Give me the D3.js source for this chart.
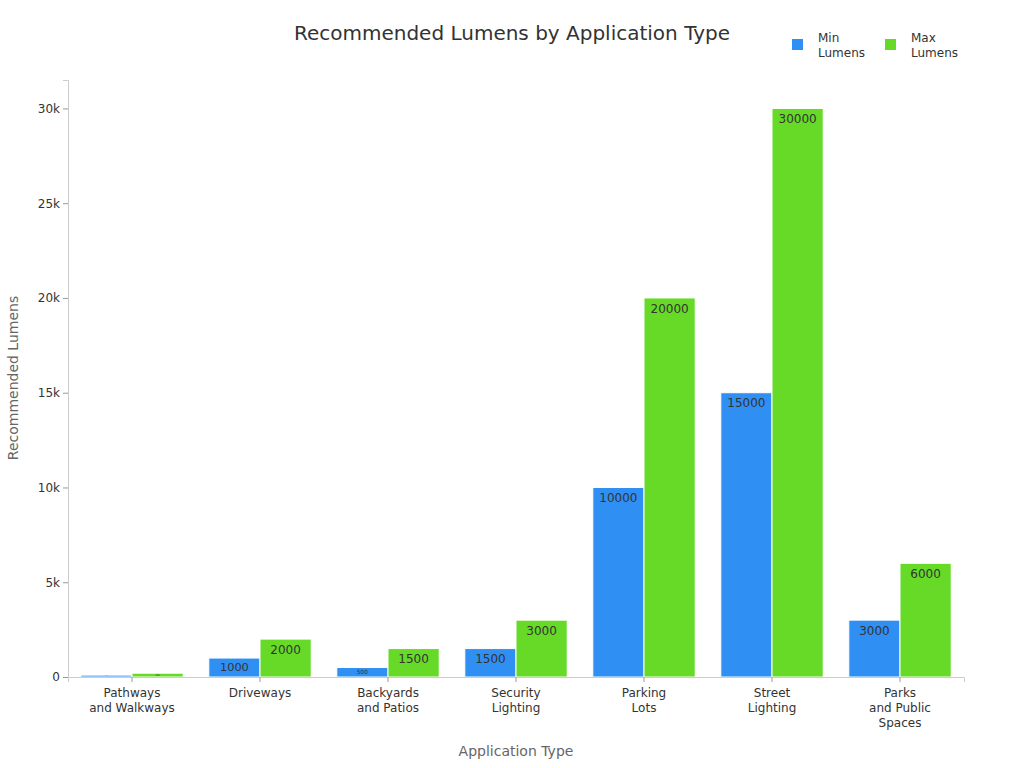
<!DOCTYPE html>
<html>
<head>
<meta charset="utf-8">
<script src="https://cdn.jsdelivr.net/npm/d3@7"></script>
<style>
	body { margin: 0; background: #fff; font-family: "DejaVu Sans", sans-serif; }
</style>
</head>
<body>
<div id="chart01"></div>
<script>
// data
var categories = [
	["Pathways", "and Walkways"],
	["Driveways"],
	["Backyards", "and Patios"],
	["Security", "Lighting"],
	["Parking", "Lots"],
	["Street", "Lighting"],
	["Parks", "and Public", "Spaces"]
];
var minLumens = [100, 1000, 500, 1500, 10000, 15000, 3000];
var maxLumens = [200, 2000, 1500, 3000, 20000, 30000, 6000];
var seriesNames = ["Min Lumens", "Max Lumens"];
var yTicks = [0, 5000, 10000, 15000, 20000, 25000, 30000];

var width = 1024, height = 768;
var margin = { top: 80, right: 60, bottom: 91, left: 68 };

var svg = d3.select("#chart01").append("svg")
	.attr("width", width).attr("height", height);

var keys = categories.map((c) => c.join(" "));
var rows = keys.map((k, i) => ({ key: k, values: [minLumens[i], maxLumens[i]] }));

var x = d3.scaleBand().domain(keys)
	.range([margin.left, width - margin.right]).paddingInner(0).paddingOuter(0);
var x1 = d3.scaleBand().domain(seriesNames)
	.range([0, x.bandwidth()]).paddingInner(0).paddingOuter(0.25);
var y = d3.scaleLinear().domain([0, 31500])
	.range([height - margin.bottom, margin.top]);
var colors = d3.scaleOrdinal().domain(seriesNames).range(["#2f8ff3", "#66da26"]);

// y axis
var yAxis = svg.append("g")
	.attr("transform", `translate(${margin.left},0)`)
	.call(d3.axisLeft(y).tickValues(yTicks).tickSize(5)
		.tickFormat((d) => d === 0 ? "0" : d / 1000 + "k"));
yAxis.select(".domain").attr("stroke", "#ccc");
yAxis.selectAll(".tick line").attr("stroke", "#999");
yAxis.selectAll("text").attr("fill", "#333").attr("font-size", "12px")
	.attr("font-family", "DejaVu Sans");

// bars
var groups = svg.append("g").selectAll("g")
	.data(rows).enter().append("g")
	.attr("transform", (d) => `translate(${x(d.key)},0)`);

groups.selectAll("rect")
	.data((d) => d.values.map((v, i) => ({ name: seriesNames[i], value: v })))
	.enter().append("rect")
	.attr("x", (d) => x1(d.name))
	.attr("y", (d) => y(d.value))
	.attr("width", x1.bandwidth())
	.attr("height", (d) => y(0) - y(d.value))
	.attr("fill", (d) => colors(d.name))
	.attr("stroke", "#fff")
	.attr("stroke-width", 1);

// value labels inside top of bars, shrunk on short bars
groups.selectAll("text.val")
	.data((d) => d.values.map((v, i) => ({ name: seriesNames[i], value: v })))
	.enter().append("text")
	.attr("class", "val")
	.attr("x", (d) => x1(d.name) + x1.bandwidth() / 2)
	.attr("y", (d) => {
		var h = y(0) - y(d.value);
		var fs = Math.min(12, h * 0.6);
		return y(d.value) + Math.min(5, h * 0.2) + fs * 0.8;
	})
	.attr("text-anchor", "middle")
	.attr("font-size", (d) => Math.min(12, (y(0) - y(d.value)) * 0.6) + "px")
	.attr("fill", "#333")
	.text((d) => d.value);

// x axis
var xAxis = svg.append("g")
	.attr("transform", `translate(0,${height - margin.bottom})`)
	.call(d3.axisBottom(x).tickSize(5).tickFormat(""));
xAxis.select(".domain").attr("stroke", "#ccc");
xAxis.selectAll(".tick line").attr("stroke", "#999");
xAxis.selectAll(".tick").each(function (d, i) {
	var t = d3.select(this).append("text")
		.attr("fill", "#333").attr("font-size", "12px")
		.attr("font-family", "DejaVu Sans")
		.attr("text-anchor", "middle")
		.attr("y", 20);
	categories[i].forEach((line, j) => {
		t.append("tspan").attr("x", 0).attr("dy", j === 0 ? 0 : 15).text(line);
	});
});

// axis titles
svg.append("text")
	.attr("text-anchor", "middle")
	.attr("x", (margin.left + width - margin.right) / 2)
	.attr("y", 756)
	.attr("font-size", "14px").attr("fill", "#666")
	.text("Application Type");
svg.append("text")
	.attr("text-anchor", "middle")
	.attr("transform", "rotate(-90)")
	.attr("x", -378)
	.attr("y", 18)
	.attr("font-size", "14px").attr("fill", "#666")
	.text("Recommended Lumens");

// title
svg.append("text")
	.attr("text-anchor", "middle")
	.attr("x", 512).attr("y", 40)
	.attr("font-size", "20px").attr("fill", "#333")
	.text("Recommended Lumens by Application Type");

// legend
var legend = svg.append("g").attr("transform", "translate(792,39)");
seriesNames.forEach((name, index) => {
	var row = legend.append("g").attr("transform", `translate(${index * 93},0)`);
	row.append("rect").attr("width", 11).attr("height", 11).attr("fill", colors(name));
	var t = row.append("text").attr("x", 26).attr("y", 3)
		.attr("font-size", "12px").attr("fill", "#333");
	name.split(" ").forEach((w, j) => {
		t.append("tspan").attr("x", 26).attr("dy", j === 0 ? 0 : 15).text(w);
	});
});
</script>
</body>
</html>
